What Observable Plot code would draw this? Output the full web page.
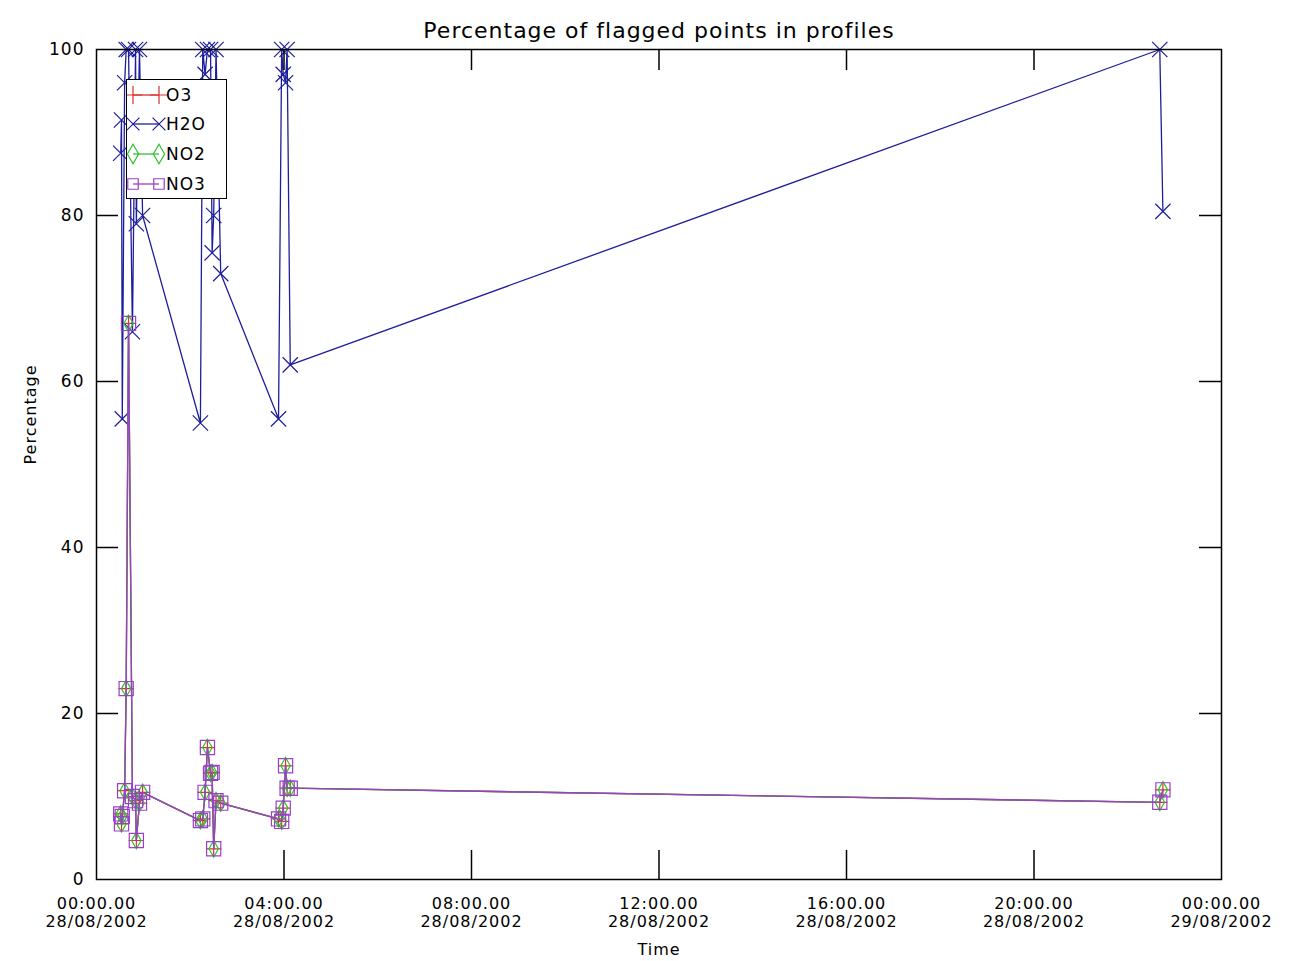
<!DOCTYPE html>
<html><head><meta charset="utf-8">
<script src="https://cdn.jsdelivr.net/npm/d3@7"></script>
<script src="https://cdn.jsdelivr.net/npm/@observablehq/plot@0.6"></script>
<style>
body{margin:0;background:#fff;}
#wrap{position:relative;width:1293px;height:961px;}
#wrap svg text{font-family:"DejaVu Sans",sans-serif;letter-spacing:1px;}
#legend{position:absolute;left:126px;top:79px;width:101px;height:120px;border:1.5px solid #000;background:#fff;box-sizing:border-box;}
#legend text{font-family:"DejaVu Sans",sans-serif;font-size:17px;letter-spacing:1px;}
</style></head><body><div id="wrap"></div>
<script>
// profile times (UTC)
const times = [
 "2002-08-28T00:31Z","2002-08-28T00:32Z","2002-08-28T00:33Z","2002-08-28T00:36Z",
 "2002-08-28T00:38Z","2002-08-28T00:41Z","2002-08-28T00:46Z","2002-08-28T00:50Z",
 "2002-08-28T00:51Z","2002-08-28T00:55Z","2002-08-28T00:59Z","2002-08-28T02:13Z",
 "2002-08-28T02:16Z","2002-08-28T02:19Z","2002-08-28T02:22Z","2002-08-28T02:26Z",
 "2002-08-28T02:28Z","2002-08-28T02:30Z","2002-08-28T02:33Z","2002-08-28T02:39Z",
 "2002-08-28T03:53Z","2002-08-28T03:57Z","2002-08-28T03:59Z","2002-08-28T04:02Z",
 "2002-08-28T04:04Z","2002-08-28T04:08Z","2002-08-28T22:41Z","2002-08-28T22:45Z"
];
const h2o = [87.5,91.5,55.5,96,100,100,66,100,79,100,80,55,100,97,100,100,75.5,80,100,73,55.5,100,97,96,100,62,100,80.5];
const o3  = [7.9,6.7,7.6,10.7,23,67,10,9.5,4.7,9.2,10.5,7.1,7.3,10.5,15.9,12.8,12.9,3.7,9.5,9.2,7.3,7.0,8.6,13.7,11,11,9.3,10.8];
const no2 = [7.9,6.7,7.6,10.7,23,67,10,9.5,4.7,9.2,10.5,7.1,7.3,10.5,15.9,12.8,12.9,3.7,9.5,9.2,7.3,7.0,8.6,13.7,11,11,9.3,10.8];
const no3 = [7.9,6.7,7.6,10.7,23,67,10,9.5,4.7,9.2,10.5,7.1,7.3,10.5,15.9,12.8,12.9,3.7,9.5,9.2,7.3,7.0,8.6,13.7,11,11,9.3,10.8];
const seriesNames = ["O3","H2O","NO2","NO3"];
const xTickLabels = ["2002-08-28T00:00Z","2002-08-28T04:00Z","2002-08-28T08:00Z","2002-08-28T12:00Z","2002-08-28T16:00Z","2002-08-28T20:00Z","2002-08-29T00:00Z"];
const yTickLabels = [0,20,40,60,80,100];
const titleText = "Percentage of flagged points in profiles";

const colors = {"O3":"#d83030","H2O":"#1e1e9c","NO2":"#30c030","NO3":"#9a40c8"};
const symbols = {"O3":"plus","H2O":"times","NO2":"diamond","NO3":"square"};
const radii = {"O3":5,"H2O":7,"NO2":5,"NO3":8};
const vals = {"O3":o3,"H2O":h2o,"NO2":no2,"NO3":no3};

const W = 1293, H = 961, mt = 49, mb = 82, ml = 96, mr = 72;
const fw = W - ml - mr, fh = H - mt - mb;
const xTicks = xTickLabels.map(s => new Date(s));
const fmt1 = d3.utcFormat("%H:%M.00"), fmt2 = d3.utcFormat("%d/%m/%Y");

const marks = [];
for (const name of seriesNames) {
  const data = times.map((t, i) => ({t: new Date(t), v: vals[name][i]}));
  marks.push(Plot.line(data, {x: "t", y: "v", stroke: colors[name], strokeWidth: 1.3}));
  marks.push(Plot.dot(data, {x: "t", y: "v", symbol: symbols[name], stroke: colors[name], fill: "none", r: radii[name], strokeWidth: 1.2}));
}

const chart = Plot.plot({
  width: W, height: H,
  marginTop: mt, marginBottom: mb, marginLeft: ml, marginRight: mr,
  style: {fontSize: "17px", fontFamily: "DejaVu Sans", background: "#fff", color: "#000"},
  x: {type: "utc", domain: [xTicks[0], xTicks[xTicks.length - 1]]},
  y: {domain: [0, 100]},
  marks: [
    ...marks,
    Plot.tickX(xTicks.slice(1, -1), {x: d => d, stroke: "#000", strokeWidth: 1.5, insetTop: fh - 29}),
    Plot.tickX(xTicks.slice(1, -1), {x: d => d, stroke: "#000", strokeWidth: 1.5, insetBottom: fh - 21}),
    Plot.tickY(yTickLabels.slice(1, -1), {y: d => d, stroke: "#000", strokeWidth: 1.5, insetRight: fw - 22}),
    Plot.tickY(yTickLabels.slice(1, -1), {y: d => d, stroke: "#000", strokeWidth: 1.5, insetLeft: fw - 22}),
    Plot.frame({stroke: "#000", strokeWidth: 1.5}),
    Plot.axisY({ticks: yTickLabels, tickSize: 0, tickPadding: 12, label: null}),
    Plot.axisX({ticks: xTicks, tickSize: 0, tickPadding: 17, label: null, fontSize: 16, lineHeight: 1.1, tickFormat: d => fmt1(d) + "\n" + fmt2(d)}),
    Plot.text([titleText], {frameAnchor: "top", dy: -19, fontSize: 22, lineAnchor: "middle"}),
    Plot.text(["Time"], {frameAnchor: "bottom", dy: 70, fontSize: 16, lineAnchor: "middle"}),
    Plot.text(["Percentage"], {frameAnchor: "left", dx: -66, rotate: -90, fontSize: 16, lineAnchor: "middle"})
  ]
});
const wrap = document.getElementById("wrap");
wrap.appendChild(chart);

// legend inside the plot area
const ns = "http://www.w3.org/2000/svg";
const leg = document.createElement("div");
leg.id = "legend";
const ls = document.createElementNS(ns, "svg");
ls.setAttribute("width", 98); ls.setAttribute("height", 117);
const rowY = [15, 44, 74, 104];
seriesNames.forEach((name, i) => {
  const y = rowY[i], c = colors[name];
  const line = document.createElementNS(ns, "line");
  line.setAttribute("x1", 6); line.setAttribute("x2", 32); line.setAttribute("y1", y); line.setAttribute("y2", y);
  line.setAttribute("stroke", c); line.setAttribute("stroke-width", 1.3);
  ls.appendChild(line);
  const sym = d3.symbol().type({"plus": d3.symbolPlus, "times": d3.symbolTimes, "diamond": d3.symbolDiamond, "square": d3.symbolSquare}[symbols[name]]).size(110);
  for (const x of [6, 32]) {
    const p = document.createElementNS(ns, "path");
    p.setAttribute("d", sym());
    p.setAttribute("transform", `translate(${x},${y})`);
    p.setAttribute("fill", "none"); p.setAttribute("stroke", c); p.setAttribute("stroke-width", 1.2);
    ls.appendChild(p);
  }
  const t = document.createElementNS(ns, "text");
  t.setAttribute("x", 39); t.setAttribute("y", y); t.setAttribute("dy", "0.35em");
  t.textContent = name;
  ls.appendChild(t);
});
leg.appendChild(ls);
wrap.appendChild(leg);
</script></body></html>
